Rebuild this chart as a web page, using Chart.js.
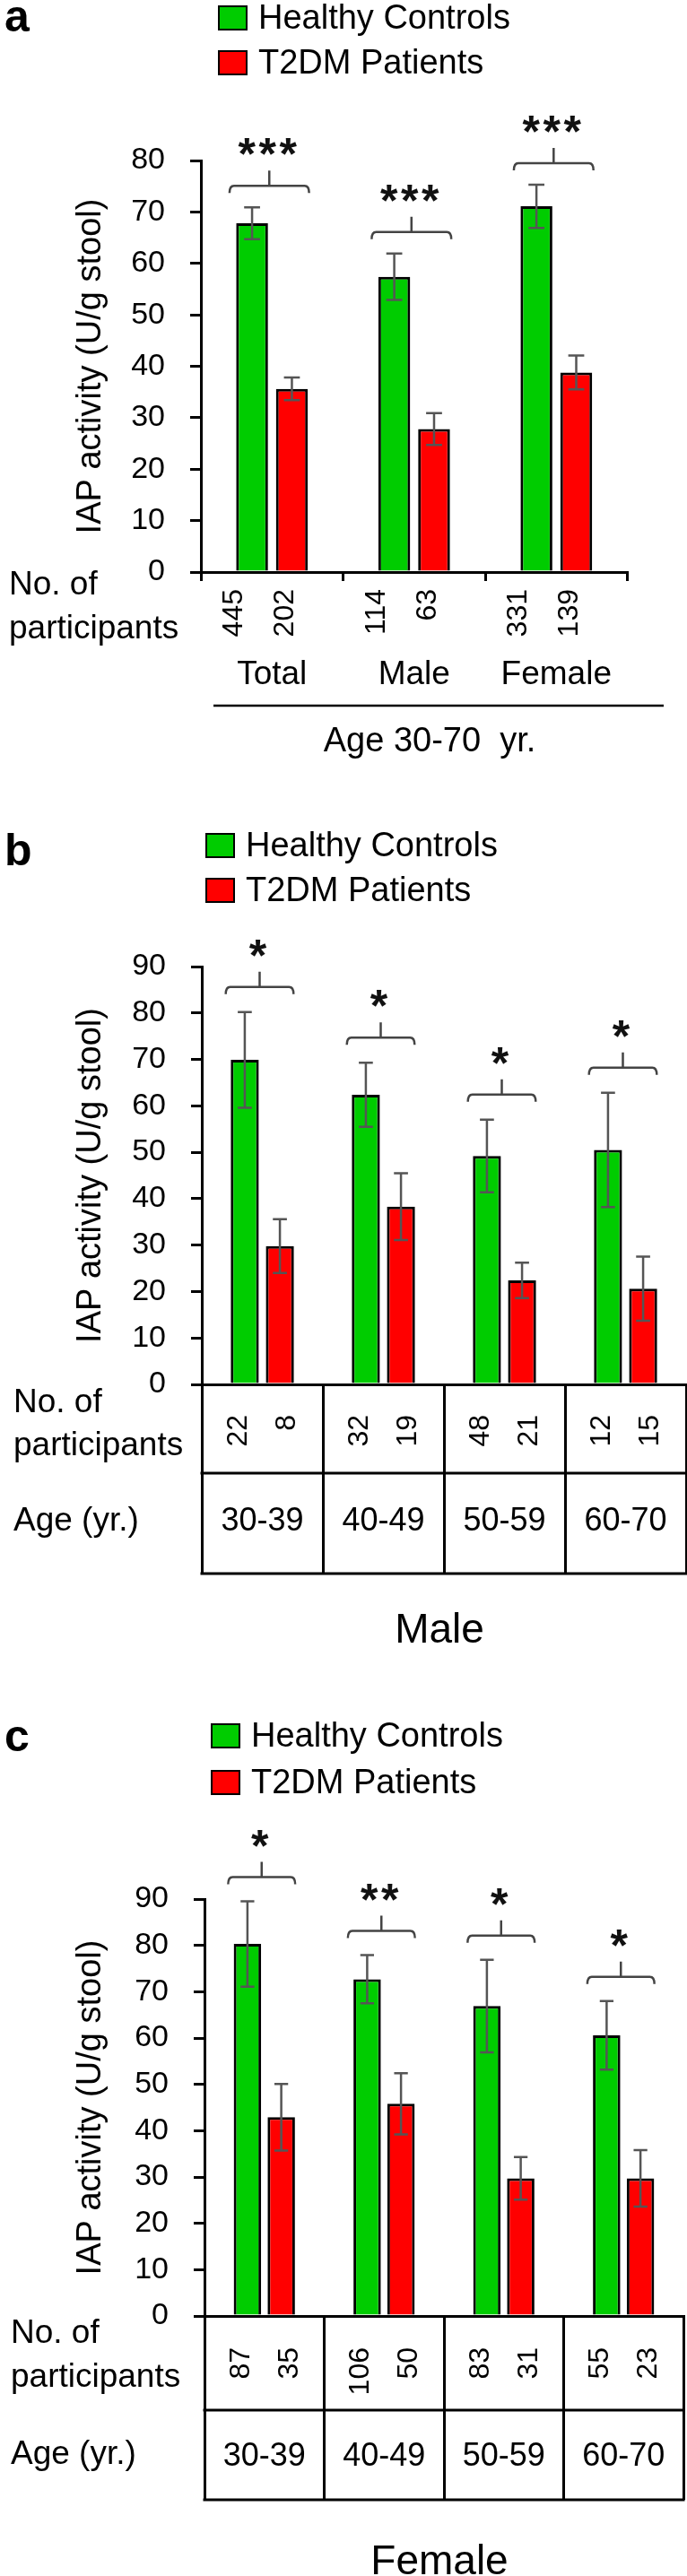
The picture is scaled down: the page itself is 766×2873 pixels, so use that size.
<!DOCTYPE html>
<html>
<head>
<meta charset="utf-8">
<script src="https://cdn.jsdelivr.net/npm/chart.js@4.4.1/dist/chart.umd.min.js"></script>
<style>
  html, body { margin: 0; padding: 0; background: #fff; }
  #page { position: relative; width: 766px; height: 2873px; overflow: hidden; background: #fff; }
  #page canvas { position: absolute; left: 0; }
</style>
</head>
<body>
<div id="page">
  <canvas id="chartA" width="766" height="880" style="top:0px"></canvas>
  <canvas id="chartB" width="766" height="1000" style="top:880px"></canvas>
  <canvas id="chartC" width="766" height="993" style="top:1880px"></canvas>
</div>
<script>
var seriesNames = ['Healthy Controls', 'T2DM Patients'];
var yTitle = 'IAP activity (U/g stool)';

// panel a : age 30-70
var groupsA = ['Total', 'Male', 'Female'];
var controlsA = [67.8, 57.4, 71.1];
var controlsErrA = [3.1, 4.5, 4.2];
var patientsA = [35.6, 27.8, 38.8];
var patientsErrA = [2.2, 3.1, 3.3];
var controlsNA = [445, 114, 331];
var patientsNA = [202, 63, 139];
var sigA = ['***', '***', '***'];

// panel b : male by age
var ageGroups = ['30-39', '40-49', '50-59', '60-70'];
var controlsB = [69.9, 62.4, 49.2, 50.5];
var controlsErrB = [10.3, 6.9, 7.8, 12.3];
var patientsB = [29.8, 38.3, 22.4, 20.6];
var patientsErrB = [5.8, 7.2, 3.8, 6.9];
var controlsNB = [22, 32, 48, 12];
var patientsNB = [8, 19, 21, 15];
var sigB = ['*', '*', '*', '*'];

// panel c : female by age
var controlsC = [80.3, 72.7, 66.9, 60.6];
var controlsErrC = [9.2, 5.2, 10.0, 7.4];
var patientsC = [42.9, 45.8, 29.7, 29.7];
var patientsErrC = [7.2, 6.6, 4.6, 6.1];
var controlsNC = [87, 106, 83, 55];
var patientsNC = [35, 50, 31, 23];
var sigC = ['*', '**', '*', '*'];

var FONT = "'Liberation Sans', Arial, Helvetica, sans-serif";
var GREEN = '#00cc00';
var RED = '#ff0000';

Chart.defaults.font.family = FONT;
Chart.defaults.color = '#000';

function drawBracket(ctx, x1, x2, y, hook, stem) {
  var cx = (x1 + x2) / 2;
  ctx.beginPath();
  ctx.moveTo(x1, y + hook);
  ctx.quadraticCurveTo(x1, y, x1 + 5, y);
  ctx.lineTo(x2 - 5, y);
  ctx.quadraticCurveTo(x2, y, x2, y + hook);
  ctx.moveTo(cx, y);
  ctx.lineTo(cx, y - stem);
  ctx.stroke();
}

function panelPlugin(p) {
  return {
    id: 'panelExtras',
    afterDatasetsDraw: function(chart) {
      var ctx = chart.ctx, xs = chart.scales.x, ys = chart.scales.y, area = chart.chartArea;
      var sets = chart.data.datasets;
      ctx.save();
      // error bars
      ctx.strokeStyle = '#555';
      ctx.lineWidth = 2.5;
      sets.forEach(function(ds, i) {
        chart.getDatasetMeta(i).data.forEach(function(bar, j) {
          var v = ds.data[j], e = ds.errors[j];
          var yt = ys.getPixelForValue(v + e), yb = ys.getPixelForValue(v - e);
          var cw = bar.width * 0.25;
          ctx.beginPath();
          ctx.moveTo(bar.x, yt); ctx.lineTo(bar.x, yb);
          ctx.moveTo(bar.x - cw, yt); ctx.lineTo(bar.x + cw, yt);
          ctx.moveTo(bar.x - cw, yb); ctx.lineTo(bar.x + cw, yb);
          ctx.stroke();
        });
      });

      // significance brackets + stars
      var n = chart.data.labels.length;
      var cat = (area.right - area.left) / n;
      for (var j = 0; j < n; j++) {
        var cx = xs.getPixelForValue(j) - 3;
        var top = Math.min.apply(null, sets.map(function(ds) {
          return ys.getPixelForValue(ds.data[j] + ds.errors[j]);
        }));
        var yb = top - p.bracketGap;
        var hw = cat * 0.28;
        ctx.strokeStyle = '#444';
        ctx.lineWidth = 2.5;
        drawBracket(ctx, cx - hw, cx + hw, yb, 8, 17);

        var s = p.sig[j];
        ctx.fillStyle = '#111';
        ctx.font = 'bold 50px ' + FONT;
        ctx.textAlign = 'center';
        ctx.textBaseline = 'alphabetic';
        for (var k = 0; k < s.length; k++) {
          var sx = cx - 2 + (k - (s.length - 1) / 2) * 23;
          ctx.fillText(s[k], sx, yb - 45 + 27);
        }
      }
      ctx.restore();
    },
    afterDraw: function(chart) {
      var ctx = chart.ctx, xs = chart.scales.x, area = chart.chartArea;
      var sets = chart.data.datasets;
      ctx.save();
      ctx.fillStyle = '#000';
      ctx.strokeStyle = '#000';

      // panel letter
      ctx.font = 'bold 50px ' + FONT;
      ctx.textAlign = 'left';
      ctx.textBaseline = 'alphabetic';
      ctx.fillText(p.letter, 5, p.letterY);

      // legend
      var lg = p.legend;
      [lg.y1, lg.y2].forEach(function(y, i) {
        ctx.fillStyle = sets[i].backgroundColor;
        ctx.fillRect(lg.x, y, 31, 26);
        ctx.lineWidth = 2;
        ctx.strokeStyle = '#000';
        ctx.strokeRect(lg.x, y, 31, 26);
        ctx.fillStyle = '#000';
        ctx.font = '38px ' + FONT;
        ctx.fillText(sets[i].label, lg.x + 44, y + 25);
      });

      // table lines (panels b, c)
      if (p.table) {
        ctx.lineWidth = 3;
        ctx.beginPath();
        ctx.moveTo(area.left - 1.5, area.bottom + p.rowSplit);
        ctx.lineTo(area.right + 1.5, area.bottom + p.rowSplit);
        ctx.moveTo(area.left - 1.5, area.bottom + p.tableH);
        ctx.lineTo(area.right + 1.5, area.bottom + p.tableH);
        ctx.stroke();
      }

      // row labels
      ctx.font = '37px ' + FONT;
      ctx.textAlign = 'left';
      ctx.fillText('No. of', p.rowLabelX, area.bottom + p.rowLabelY[0]);
      ctx.fillText('participants', p.rowLabelX, area.bottom + p.rowLabelY[1]);
      if (p.table) ctx.fillText('Age (yr.)', p.rowLabelX, area.bottom + p.rowLabelY[2]);

      // participant counts, rotated
      ctx.font = '32px ' + FONT;
      ctx.textAlign = 'right';
      ctx.textBaseline = 'middle';
      sets.forEach(function(ds, i) {
        ds.counts.forEach(function(c, j) {
          ctx.save();
          ctx.translate(xs.getPixelForValue(j) + p.numOffsets[i], area.bottom + p.numTop);
          ctx.rotate(-Math.PI / 2);
          ctx.fillText(String(c), 0, 0);
          ctx.restore();
        });
      });

      // bottom caption
      ctx.textBaseline = 'alphabetic';
      ctx.textAlign = 'center';
      if (p.caption === 'Age 30-70  yr.') {
        ctx.lineWidth = 2.5;
        ctx.beginPath();
        ctx.moveTo(238, area.bottom + 149);
        ctx.lineTo(740, area.bottom + 149);
        ctx.stroke();
        ctx.font = '38px ' + FONT;
        ctx.fillText(p.caption, 479, area.bottom + 200);
      } else {
        ctx.font = '46px ' + FONT;
        ctx.fillText(p.caption, (area.left + area.right) / 2 - 5, area.bottom + 288);
      }
      ctx.restore();
    }
  };
}

function buildPanel(id, p) {
  var ctx = document.getElementById(id).getContext('2d');
  var W = 766;
  return new Chart(ctx, {
    type: 'bar',
    data: {
      labels: p.labels,
      datasets: [{
        label: seriesNames[0],
        data: p.controls,
        errors: p.controlsErr,
        counts: p.controlsN,
        backgroundColor: GREEN,
        borderColor: '#000',
        borderWidth: 3,
        borderSkipped: 'start',
        categoryPercentage: p.catPct,
        barPercentage: p.barPct
      }, {
        label: seriesNames[1],
        data: p.patients,
        errors: p.patientsErr,
        counts: p.patientsN,
        backgroundColor: RED,
        borderColor: '#000',
        borderWidth: 3,
        borderSkipped: 'start',
        categoryPercentage: p.catPct,
        barPercentage: p.barPct
      }]
    },
    options: {
      responsive: false,
      animation: false,
      layout: { padding: { top: p.area.top, right: W - p.area.right, left: 0, bottom: 0 } },
      plugins: { legend: { display: false }, tooltip: { enabled: false } },
      scales: {
        x: {
          grid: { offset: true, drawOnChartArea: false, drawTicks: true, tickLength: p.tickLen, color: '#000', lineWidth: 3 },
          border: { display: true, color: '#000', width: 3 },
          ticks: { color: '#000', font: { size: p.catFont }, padding: p.catPad, autoSkip: false, maxRotation: 0 },
          afterFit: function(s) { s.height = p.height - p.area.bottom; }
        },
        y: {
          min: 0,
          max: p.yMax,
          grid: { drawOnChartArea: false, drawTicks: true, tickLength: 12, color: '#000', lineWidth: 3 },
          border: { display: true, color: '#000', width: 3 },
          ticks: { stepSize: 10, color: '#000', font: { size: 34 }, padding: 28 },
          title: { display: true, text: yTitle, color: '#000', font: { size: 38 }, padding: { top: 79, bottom: 0 } },
          afterFit: function(s) { s.width = p.area.left; }
        }
      }
    },
    plugins: [panelPlugin(p)]
  });
}

buildPanel('chartA', {
  labels: groupsA, controls: controlsA, controlsErr: controlsErrA, patients: patientsA, patientsErr: patientsErrA,
  controlsN: controlsNA, patientsN: patientsNA, sig: sigA,
  height: 880, area: { top: 179, bottom: 638, left: 224, right: 760 }, yMax: 80,
  catPct: 0.56, barPct: 0.8, tickLen: 10, catFont: 37, catPad: 83,
  bracketGap: 24, letter: 'a', letterY: 35, legend: { x: 244, y1: 7, y2: 57 },
  table: false, rowLabelX: 10, rowLabelY: [25, 74], numOffsets: [-42, 15], numTop: 19,
  caption: 'Age 30-70  yr.'
});

buildPanel('chartB', {
  labels: ageGroups, controls: controlsB, controlsErr: controlsErrB, patients: patientsB, patientsErr: patientsErrB,
  controlsN: controlsNB, patientsN: patientsNB, sig: sigB,
  height: 1000, area: { top: 198, bottom: 664, left: 225, right: 765 }, yMax: 90,
  catPct: 0.58, barPct: 0.8, tickLen: 211, catFont: 36, catPad: 153 - 21.6 - 211,
  bracketGap: 28, letter: 'b', letterY: 85, legend: { x: 230, y1: 50, y2: 100 },
  table: true, rowSplit: 99, tableH: 211, rowLabelX: 15, rowLabelY: [31, 79, 163], numOffsets: [-26, 28], numTop: 34,
  caption: 'Male'
});

buildPanel('chartC', {
  labels: ageGroups, controls: controlsC, controlsErr: controlsErrC, patients: patientsC, patientsErr: patientsErrC,
  controlsN: controlsNC, patientsN: patientsNC, sig: sigC,
  height: 993, area: { top: 238, bottom: 703, left: 228, right: 762 }, yMax: 90,
  catPct: 0.565, barPct: 0.81, tickLen: 205, catFont: 36, catPad: 157 - 21.6 - 205,
  bracketGap: 27, letter: 'c', letterY: 73, legend: { x: 236, y1: 43, y2: 95 },
  table: true, rowSplit: 105, tableH: 205, rowLabelX: 12, rowLabelY: [30, 79, 165], numOffsets: [-26, 28], numTop: 35,
  caption: 'Female'
});
</script>
</body>
</html>
